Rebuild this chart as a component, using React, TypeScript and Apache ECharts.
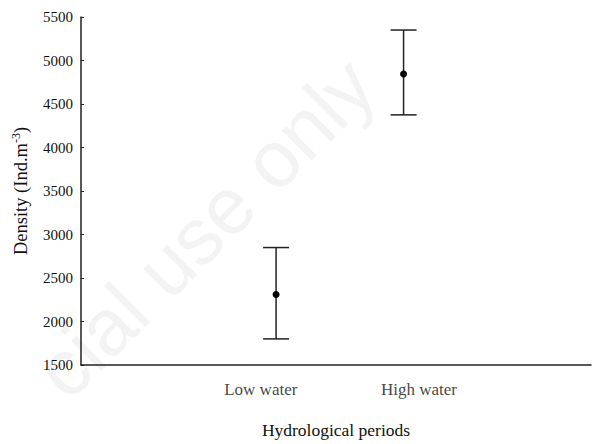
import React, { useEffect, useRef } from "react";
import * as echarts from "echarts";

const categories = ["Low water", "High water"];
const barPositions = [1.53, 2.53];
const labelPositions = [1.41, 2.65];
const means = [2310, 4845];
const lowers = [1800, 4375];
const uppers = [2850, 5350];
const yTicks = { min: 1500, max: 5500, interval: 500 };

const SERIF = "'Liberation Serif', 'DejaVu Serif', serif";

export default function App() {
  const ref = useRef<HTMLDivElement>(null);
  useEffect(() => {
    if (!ref.current) return;
    const chart = echarts.init(ref.current, undefined, { renderer: "svg" });
    const errData = categories.map((c, i) => [barPositions[i], lowers[i], uppers[i], means[i]]);
    const labelData = categories.map((c, i) => ({ name: c, value: [labelPositions[i], yTicks.min] }));
    chart.setOption({
      animation: false,
      backgroundColor: "#ffffff",
      graphic: [
        {
          type: "text",
          x: 205,
          y: 228,
          rotation: Math.PI / 4,
          z: -10,
          silent: true,
          style: {
            text: "cial use only",
            font: "80px 'Liberation Sans', Arial, sans-serif",
            fill: "#f3f3f3",
            textAlign: "center",
            textVerticalAlign: "middle",
          },
        },
      ],
      grid: { left: 81, top: 17, right: 1, bottom: 73, containLabel: false },
      xAxis: {
        type: "value",
        min: 0,
        max: 4,
        name: "Hydrological periods",
        nameLocation: "middle",
        nameGap: 56,
        nameTextStyle: { fontFamily: SERIF, fontSize: 17.5, color: "#111" },
        axisLine: { show: true, onZero: false, lineStyle: { color: "#222", width: 1.5 } },
        axisTick: { show: false },
        axisLabel: { show: false },
        splitLine: { show: false },
      },
      yAxis: {
        type: "value",
        min: yTicks.min,
        max: yTicks.max,
        interval: yTicks.interval,
        name: "{a|Density (Ind.m}{s|-3}{a|)}",
        nameLocation: "middle",
        nameGap: 49,
        nameTextStyle: {
          rich: {
            a: { fontFamily: SERIF, fontSize: 18.5, color: "#111" },
            s: { fontFamily: SERIF, fontSize: 12, color: "#111", padding: [0, 0, 10, 0] },
          },
        },
        axisLine: { show: true, lineStyle: { color: "#222", width: 1.5 } },
        axisTick: { show: true, inside: true, length: 3, lineStyle: { color: "#222" } },
        axisLabel: {
          fontFamily: SERIF,
          fontSize: 15,
          color: "#111",
          margin: 8,
          formatter: (v: number) => String(v),
        },
        splitLine: { show: false },
      },
      series: [
        {
          type: "custom",
          data: errData,
          encode: { x: 0, y: [1, 2, 3] },
          renderItem: (params: any, api: any) => {
            const x = api.value(0);
            const lo = api.coord([x, api.value(1)]);
            const hi = api.coord([x, api.value(2)]);
            const mid = api.coord([x, api.value(3)]);
            const w = 13;
            const st = { stroke: "#222", lineWidth: 1.5 };
            return {
              type: "group",
              children: [
                { type: "line", shape: { x1: lo[0], y1: lo[1], x2: hi[0], y2: hi[1] }, style: st },
                { type: "line", shape: { x1: lo[0] - w, y1: lo[1], x2: lo[0] + w, y2: lo[1] }, style: st },
                { type: "line", shape: { x1: hi[0] - w, y1: hi[1], x2: hi[0] + w, y2: hi[1] }, style: st },
                { type: "circle", shape: { cx: mid[0], cy: mid[1], r: 3.5 }, style: { fill: "#000" } },
              ],
            };
          },
        },
        {
          type: "scatter",
          data: labelData,
          symbolSize: 0,
          silent: true,
          label: {
            show: true,
            position: "bottom",
            distance: 16,
            formatter: (p: any) => p.name,
            fontFamily: SERIF,
            fontSize: 17,
            color: "#111",
          },
        },
      ],
    });
    return () => chart.dispose();
  }, []);
  return (
    <div
      ref={ref}
      style={{ position: "fixed", left: 0, top: 0, width: 592, height: 444 }}
    />
  );
}
